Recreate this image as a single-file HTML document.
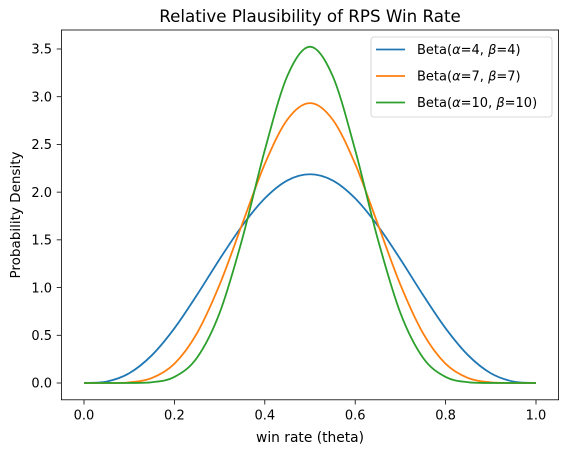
<!DOCTYPE html>
<html><head><meta charset="utf-8"><style>
body{margin:0;background:#fff;}
svg{display:block;font-family:"DejaVu Sans","Liberation Sans",sans-serif;}
</style></head><body>
<svg id="chart" width="567" height="453" viewBox="0 0 567 453">
<rect width="567" height="453" fill="#fff"/>
<text x="310" y="22" text-anchor="middle" font-size="16.7" fill="#000">Relative Plausibility of RPS Win Rate</text>
<g id="series"></g>
<g id="axes"></g>
<rect x="61.4" y="30" width="497.2" height="369.8" fill="none" stroke="#000" stroke-width="0.8"/>
<text x="310" y="442" text-anchor="middle" font-size="13.8">win rate (theta)</text>
<text transform="translate(20,215) rotate(-90)" text-anchor="middle" font-size="13.5">Probability Density</text>
<g>
<rect x="371" y="37" width="181" height="80" rx="3" fill="#fff" fill-opacity="0.8" stroke="#ccc" stroke-width="0.8"/>
<g id="legend-entries"></g>
</g>
</svg>
<script>
const xs = [0,0.05,0.1,0.15,0.2,0.25,0.3,0.35,0.4,0.45,0.5,0.55,0.6,0.65,0.7,0.75,0.8,0.85,0.9,0.95,1];
const beta4 = [0,0.015,0.102,0.290,0.573,0.923,1.297,1.648,1.935,2.123,2.1875,2.123,1.935,1.648,1.297,0.923,0.573,0.290,0.102,0.015,0];
const beta7 = [0,0.0001,0.0064,0.0516,0.2015,0.522,1.030,1.665,2.295,2.761,2.933,2.761,2.295,1.665,1.030,0.522,0.2015,0.0516,0.0064,0.0001,0];
const beta10 = [0,0,0.0004,0.0082,0.0635,0.2646,0.734,1.508,2.440,3.219,3.524,3.219,2.440,1.508,0.734,0.2646,0.0635,0.0082,0.0004,0,0];
const seriesLabels = ["=4, ","=7, ","=10, "];
const seriesBeta = ["=4)","=7)","=10)"];
const xTicks = [0,0.2,0.4,0.6,0.8,1.0];
const xTickLabels = ["0.0","0.2","0.4","0.6","0.8","1.0"];
const yTicks = [0,0.5,1,1.5,2,2.5,3,3.5];
const yTickLabels = ["0.0","0.5","1.0","1.5","2.0","2.5","3.0","3.5"];

const NS="http://www.w3.org/2000/svg";
const xScale = v => 84 + v*452;
const yScale = v => 383 - v*95.43;
const colors=["#1f77b4","#ff7f0e","#2ca02c"];
const names=["beta-4-4-curve","beta-7-7-curve","beta-10-10-curve"];
const sg=document.getElementById("series");
[beta4,beta7,beta10].forEach((ys,k)=>{
  const P=xs.map((x,i)=>[xScale(x),yScale(ys[i])]);
  let d="M"+P[0][0]+","+P[0][1];
  for(let i=0;i<P.length-1;i++){
    const p0=P[Math.max(i-1,0)],p1=P[i],p2=P[i+1],p3=P[Math.min(i+2,P.length-1)];
    const c1=[p1[0]+(p2[0]-p0[0])/6,p1[1]+(p2[1]-p0[1])/6];
    const c2=[p2[0]-(p3[0]-p1[0])/6,p2[1]-(p3[1]-p1[1])/6];
    d+=" C"+c1+" "+c2+" "+p2;
  }
  const path=document.createElementNS(NS,"path");
  path.setAttribute("d",d);path.setAttribute("fill","none");
  path.setAttribute("stroke",colors[k]);path.setAttribute("stroke-width","1.8");
  
  
  sg.appendChild(path);
});
const ag=document.getElementById("axes");
xTicks.forEach((t,i)=>{
  const x=xScale(t);
  const l=document.createElementNS(NS,"line");
  l.setAttribute("x1",x);l.setAttribute("x2",x);l.setAttribute("y1",399.8);l.setAttribute("y2",404.5);l.setAttribute("stroke","#000");l.setAttribute("stroke-width","0.8");
  
  
  ag.appendChild(l);
  const tx=document.createElementNS(NS,"text");
  tx.setAttribute("x",x);tx.setAttribute("y",419.5);tx.setAttribute("text-anchor","middle");tx.setAttribute("font-size","13");
  tx.textContent=xTickLabels[i];
  
  
  ag.appendChild(tx);
});
yTicks.forEach((t,i)=>{
  const y=yScale(t);
  const l=document.createElementNS(NS,"line");
  l.setAttribute("x1",56.7);l.setAttribute("x2",61.4);l.setAttribute("y1",y);l.setAttribute("y2",y);l.setAttribute("stroke","#000");l.setAttribute("stroke-width","0.8");
  
  
  ag.appendChild(l);
  const tx=document.createElementNS(NS,"text");
  tx.setAttribute("x",52);tx.setAttribute("y",y+4.7);tx.setAttribute("text-anchor","end");tx.setAttribute("font-size","13");
  tx.textContent=yTickLabels[i];
  
  
  ag.appendChild(tx);
});
const lg=document.getElementById("legend-entries");
seriesLabels.forEach((s,k)=>{
  const y=49.5+k*26.5;
  const l=document.createElementNS(NS,"line");
  l.setAttribute("x1",376);l.setAttribute("x2",405);l.setAttribute("y1",y);l.setAttribute("y2",y);l.setAttribute("stroke",colors[k]);l.setAttribute("stroke-width","1.8");
  
  
  lg.appendChild(l);
  const tx=document.createElementNS(NS,"text");
  tx.setAttribute("x",417);tx.setAttribute("y",y+4.5);tx.setAttribute("font-size","13");
  tx.innerHTML="Beta(<tspan font-style='italic'>\u03b1</tspan>"+s+"<tspan font-style='italic'>\u03b2</tspan>"+seriesBeta[k];
  
  
  lg.appendChild(tx);
});
</script>
</body></html>
